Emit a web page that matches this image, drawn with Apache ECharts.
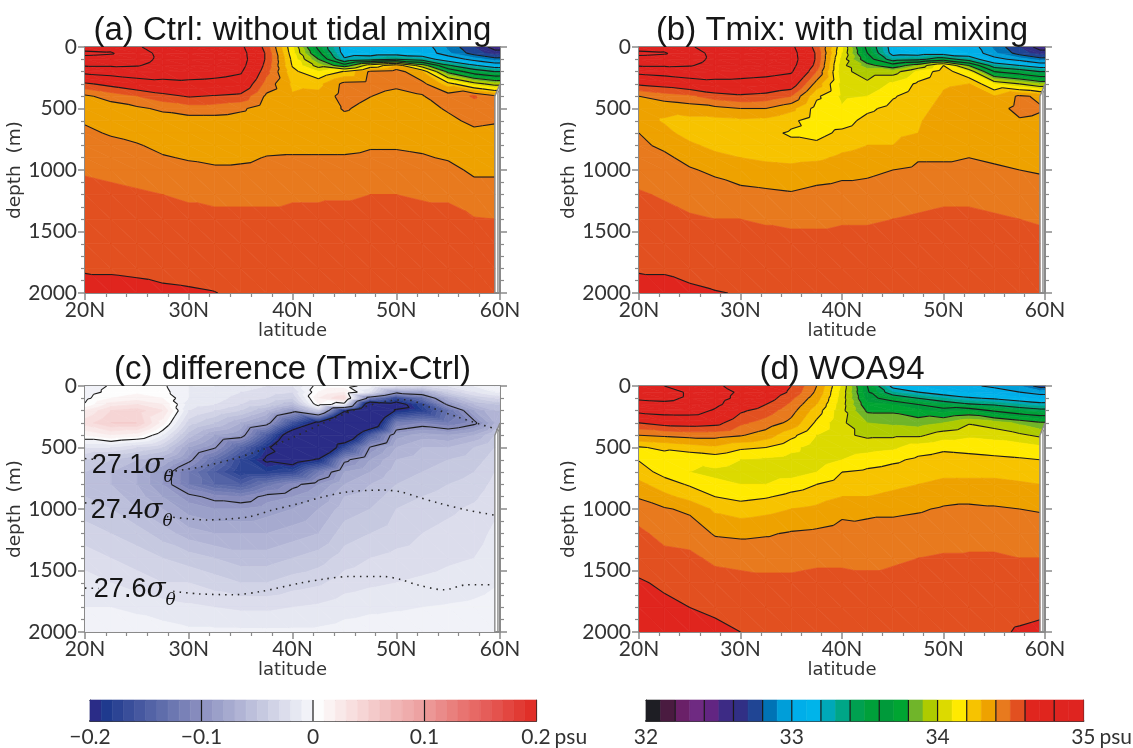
<!DOCTYPE html>
<html><head><meta charset="utf-8">
<script src="https://cdn.jsdelivr.net/npm/echarts@6/dist/echarts.min.js"></script>
<style>html,body{margin:0;padding:0;background:#fff}#c{width:1133px;height:748px}</style>
</head><body><div id="c"></div>
<script>
// ---------------- data ----------------
const latNodes   = [20,22.5,25,27.5,30,32.5,35,37.5,40,42.5,45,47.5,50,52.5,55,57.5,59.5];
const depthNodes = [0,50,100,150,200,300,400,500,600,700,800,900,1000,1200,1400,1600,1800,2000];
const latTicks   = [20,30,40,50,60];
const depthTicks = [0,500,1000,1500,2000];

// salinity (psu), one column per latitude node, top to bottom
const salCtrl = [
 [35.10,35.25,35.12,35.02,34.85,34.58,34.38,34.34,34.39,34.42,34.44,34.46,34.49,34.53,34.56,34.58,34.595,34.62],
 [35.12,35.22,35.10,35.02,34.88,34.64,34.44,34.35,34.36,34.39,34.43,34.45,34.48,34.52,34.55,34.57,34.595,34.615],
 [35.02,35.06,35.05,35.01,34.92,34.70,34.50,34.38,34.34,34.36,34.41,34.44,34.47,34.51,34.54,34.56,34.592,34.613],
 [34.92,34.96,34.97,34.95,34.90,34.74,34.56,34.42,34.35,34.34,34.37,34.41,34.45,34.50,34.53,34.55,34.585,34.61],
 [34.90,34.94,34.95,34.92,34.88,34.76,34.61,34.45,34.36,34.34,34.35,34.39,34.43,34.49,34.52,34.54,34.58,34.607],
 [34.88,34.92,34.92,34.90,34.86,34.75,34.59,34.45,34.36,34.33,34.34,34.37,34.42,34.48,34.52,34.54,34.57,34.602],
 [34.84,34.87,34.88,34.86,34.82,34.72,34.57,34.42,34.35,34.33,34.34,34.38,34.42,34.48,34.52,34.54,34.56,34.585],
 [34.55,34.58,34.58,34.56,34.53,34.46,34.38,34.34,34.32,34.32,34.37,34.405,34.43,34.48,34.52,34.54,34.56,34.58],
 [34.12,34.14,34.17,34.19,34.23,34.28,34.31,34.32,34.32,34.34,34.37,34.41,34.44,34.49,34.52,34.54,34.56,34.58],
 [33.55,33.65,33.80,33.95,34.10,34.27,34.33,34.34,34.33,34.34,34.37,34.41,34.44,34.49,34.52,34.55,34.57,34.58],
 [33.12,33.14,33.22,33.70,34.21,34.43,34.44,34.41,34.37,34.35,34.37,34.41,34.44,34.49,34.53,34.55,34.57,34.59],
 [33.10,33.12,33.30,34.10,34.42,34.44,34.402,34.37,34.35,34.36,34.39,34.42,34.45,34.50,34.53,34.55,34.57,34.59],
 [33.10,33.12,33.40,34.30,34.45,34.42,34.37,34.35,34.34,34.36,34.39,34.42,34.45,34.50,34.53,34.55,34.57,34.59],
 [33.08,33.10,33.30,33.90,34.30,34.43,34.395,34.37,34.35,34.36,34.38,34.41,34.44,34.49,34.53,34.55,34.57,34.59],
 [32.88,32.92,33.10,33.42,33.75,34.25,34.45,34.41,34.38,34.36,34.36,34.39,34.43,34.49,34.52,34.54,34.56,34.58],
 [32.70,32.75,32.95,33.22,33.50,34.05,34.51,34.46,34.42,34.38,34.36,34.36,34.38,34.45,34.505,34.53,34.55,34.57],
 [32.55,32.65,32.85,33.10,33.40,33.95,34.42,34.44,34.41,34.37,34.35,34.36,34.38,34.45,34.50,34.53,34.55,34.57]
];
const salTmix = [
 [35.10,35.25,35.12,35.02,34.85,34.62,34.40,34.34,34.34,34.40,34.42,34.44,34.46,34.51,34.55,34.57,34.595,34.62],
 [35.12,35.22,35.10,35.02,34.88,34.65,34.45,34.33,34.29,34.33,34.38,34.42,34.45,34.49,34.53,34.56,34.595,34.615],
 [35.02,35.06,35.05,35.01,34.92,34.70,34.48,34.35,34.27,34.26,34.32,34.37,34.41,34.47,34.51,34.55,34.585,34.61],
 [34.92,34.96,34.97,34.95,34.90,34.74,34.55,34.37,34.27,34.24,34.27,34.33,34.38,34.45,34.50,34.54,34.575,34.603],
 [34.90,34.94,34.95,34.92,34.88,34.74,34.58,34.40,34.28,34.23,34.25,34.30,34.35,34.43,34.50,34.54,34.57,34.597],
 [34.88,34.92,34.92,34.90,34.86,34.72,34.56,34.40,34.27,34.22,34.23,34.28,34.34,34.42,34.49,34.53,34.56,34.59],
 [34.84,34.87,34.88,34.86,34.82,34.68,34.50,34.33,34.22,34.19,34.22,34.27,34.33,34.41,34.48,34.53,34.56,34.58],
 [34.55,34.58,34.58,34.56,34.50,34.36,34.22,34.16,34.15,34.17,34.22,34.28,34.35,34.43,34.48,34.53,34.56,34.58],
 [34.12,34.10,34.06,34.03,34.03,34.06,34.08,34.11,34.16,34.22,34.27,34.32,34.37,34.44,34.49,34.53,34.56,34.58],
 [33.55,33.60,33.70,33.85,33.95,34.02,34.10,34.18,34.23,34.26,34.30,34.34,34.38,34.44,34.49,34.53,34.56,34.58],
 [33.12,33.14,33.30,33.70,33.95,34.12,34.19,34.23,34.26,34.28,34.30,34.34,34.40,34.46,34.50,34.54,34.56,34.58],
 [33.10,33.12,33.35,33.90,34.12,34.22,34.25,34.27,34.29,34.30,34.34,34.39,34.42,34.47,34.51,34.54,34.56,34.58],
 [33.10,33.12,33.50,34.20,34.26,34.29,34.31,34.33,34.35,34.36,34.37,34.39,34.42,34.48,34.52,34.55,34.57,34.59],
 [33.08,33.10,33.30,33.80,34.10,34.30,34.33,34.35,34.36,34.37,34.38,34.40,34.42,34.48,34.52,34.55,34.57,34.59],
 [32.88,32.92,33.05,33.30,33.60,34.10,34.30,34.36,34.37,34.37,34.38,34.39,34.41,34.47,34.51,34.54,34.56,34.58],
 [32.70,32.75,32.95,33.20,33.50,34.00,34.42,34.43,34.39,34.37,34.37,34.38,34.40,34.46,34.50,34.53,34.55,34.57],
 [32.55,32.65,32.85,33.10,33.40,33.90,34.38,34.41,34.38,34.36,34.36,34.37,34.39,34.45,34.49,34.53,34.55,34.57]
];
const salDiff = [
 [-0.005,-0.005,-0.003,0.001,0.02,0.035,0.01,-0.02,-0.04,-0.05,-0.05,-0.05,-0.045,-0.035,-0.025,-0.015,-0.01,-0.005],
 [0.001,0.003,0.01,0.025,0.04,0.05,0.02,-0.02,-0.05,-0.06,-0.06,-0.055,-0.05,-0.04,-0.03,-0.02,-0.01,-0.005],
 [0.004,0.008,0.015,0.03,0.045,0.05,0.015,-0.03,-0.06,-0.07,-0.07,-0.065,-0.06,-0.045,-0.035,-0.025,-0.012,-0.005],
 [0.002,0.004,0.01,0.02,0.03,0.015,-0.01,-0.04,-0.07,-0.09,-0.09,-0.08,-0.07,-0.055,-0.04,-0.03,-0.015,-0.006],
 [-0.01,-0.01,-0.01,-0.015,-0.02,-0.035,-0.055,-0.08,-0.095,-0.12,-0.12,-0.095,-0.085,-0.065,-0.045,-0.03,-0.018,-0.008],
 [-0.01,-0.012,-0.015,-0.02,-0.03,-0.05,-0.08,-0.098,-0.13,-0.15,-0.14,-0.105,-0.09,-0.07,-0.05,-0.035,-0.02,-0.008],
 [-0.015,-0.02,-0.025,-0.03,-0.04,-0.07,-0.09,-0.14,-0.17,-0.18,-0.15,-0.11,-0.09,-0.07,-0.055,-0.04,-0.022,-0.008],
 [-0.02,-0.025,-0.03,-0.04,-0.06,-0.09,-0.15,-0.19,-0.205,-0.18,-0.125,-0.095,-0.085,-0.07,-0.055,-0.04,-0.022,-0.008],
 [-0.02,-0.03,-0.04,-0.06,-0.09,-0.16,-0.23,-0.26,-0.22,-0.17,-0.105,-0.09,-0.08,-0.065,-0.05,-0.035,-0.02,-0.008],
 [0.005,0.01,0.02,0.01,-0.04,-0.21,-0.28,-0.27,-0.195,-0.12,-0.09,-0.08,-0.07,-0.06,-0.045,-0.032,-0.018,-0.008],
 [0.005,0.02,0.04,-0.01,-0.19,-0.32,-0.25,-0.17,-0.105,-0.08,-0.07,-0.06,-0.055,-0.045,-0.035,-0.025,-0.014,-0.006],
 [-0.005,-0.02,-0.12,-0.25,-0.3,-0.25,-0.15,-0.098,-0.08,-0.07,-0.06,-0.055,-0.05,-0.04,-0.03,-0.022,-0.012,-0.005],
 [-0.02,-0.09,-0.17,-0.22,-0.195,-0.12,-0.085,-0.07,-0.06,-0.055,-0.05,-0.045,-0.04,-0.035,-0.027,-0.02,-0.011,-0.005],
 [-0.03,-0.08,-0.13,-0.17,-0.18,-0.11,-0.075,-0.06,-0.055,-0.05,-0.045,-0.04,-0.035,-0.03,-0.025,-0.018,-0.01,-0.005],
 [-0.02,-0.04,-0.07,-0.095,-0.13,-0.12,-0.08,-0.06,-0.05,-0.045,-0.04,-0.036,-0.032,-0.027,-0.022,-0.016,-0.009,-0.004],
 [-0.01,-0.02,-0.04,-0.06,-0.08,-0.105,-0.07,-0.05,-0.045,-0.04,-0.036,-0.032,-0.028,-0.024,-0.02,-0.014,-0.008,-0.004],
 [-0.002,-0.01,-0.03,-0.05,-0.06,-0.07,-0.05,-0.04,-0.035,-0.03,-0.027,-0.024,-0.022,-0.018,-0.015,-0.011,-0.006,-0.003]
];
const salWOA = [
 [35.00,35.06,35.02,34.95,34.85,34.60,34.40,34.19,34.195,34.24,34.33,34.39,34.45,34.52,34.56,34.61,34.64,34.67],
 [35.00,35.06,35.03,34.97,34.88,34.65,34.42,34.22,34.15,34.17,34.24,34.33,34.41,34.47,34.53,34.585,34.62,34.65],
 [34.92,34.98,34.98,34.95,34.88,34.66,34.44,34.25,34.12,34.10,34.19,34.26,34.38,34.46,34.52,34.57,34.60,34.63],
 [34.82,34.86,34.86,34.84,34.78,34.64,34.44,34.28,34.14,34.08,34.12,34.20,34.28,34.39,34.48,34.54,34.585,34.62],
 [34.76,34.78,34.76,34.70,34.62,34.52,34.41,34.22,34.10,34.06,34.10,34.17,34.25,34.38,34.47,34.53,34.57,34.60],
 [34.70,34.70,34.66,34.60,34.55,34.46,34.35,34.20,34.08,34.04,34.10,34.19,34.27,34.39,34.47,34.52,34.56,34.59],
 [34.60,34.58,34.52,34.48,34.44,34.37,34.23,34.13,34.06,34.05,34.15,34.23,34.30,34.41,34.47,34.52,34.56,34.59],
 [34.40,34.38,34.34,34.30,34.25,34.18,34.10,34.05,34.04,34.10,34.20,34.26,34.32,34.42,34.48,34.53,34.56,34.59],
 [34.08,34.06,34.05,34.04,34.03,34.02,34.02,34.04,34.10,34.20,34.25,34.30,34.37,34.44,34.48,34.53,34.56,34.59],
 [33.60,33.62,33.66,33.72,33.78,33.90,33.98,34.06,34.15,34.22,34.26,34.30,34.38,34.43,34.48,34.52,34.55,34.58],
 [33.15,33.30,33.52,33.70,33.78,33.88,33.98,34.08,34.18,34.24,34.28,34.32,34.38,34.44,34.49,34.52,34.55,34.58],
 [33.10,33.20,33.40,33.60,33.72,33.86,33.98,34.15,34.22,34.26,34.30,34.34,34.39,34.45,34.50,34.53,34.56,34.58],
 [33.05,33.12,33.30,33.50,33.66,33.90,34.05,34.18,34.24,34.28,34.32,34.37,34.41,34.46,34.51,34.53,34.56,34.58],
 [33.02,33.08,33.22,33.42,33.70,33.99,34.08,34.17,34.23,34.28,34.32,34.37,34.42,34.47,34.51,34.53,34.56,34.58],
 [32.98,33.05,33.18,33.38,33.58,33.95,34.06,34.16,34.22,34.28,34.32,34.37,34.41,34.47,34.51,34.53,34.56,34.58],
 [32.90,33.00,33.12,33.30,33.50,33.88,34.02,34.15,34.21,34.27,34.31,34.36,34.40,34.46,34.50,34.53,34.57,34.61],
 [32.75,32.95,33.08,33.25,33.45,33.82,33.98,34.12,34.20,34.26,34.30,34.35,34.39,34.46,34.50,34.53,34.58,34.62]
];
// potential-density isolines drawn in panel (c): [lat, depth]
const iso271 = [[20,590],[21.2,598],'-',[28.1,697],[31,660],[34,600],[37,520],[40,420],[43,300],[46,195],[49,125],[51,112],[53,165],[56,255],[60,360]];
const iso274 = [[20,950],[21,958],'-',[27.9,1062],[30,1080],[31.7,1089],[34,1080],[35.9,1062],[38,1010],[40.7,954],[43,900],[45.5,859],[48.8,846],[50.5,862],[52,900],[54,950],[56.8,1008],[59.4,1049]];
const iso276 = [[20,1643],[21.3,1646],'-',[28.5,1670],[31,1690],[34.3,1697],[37,1670],[40.7,1603],[43,1570],[45.5,1549],[48.8,1549],[50.5,1575],[52,1616],[54.6,1657],[56.8,1616],[59.4,1616]];
const isoLabels = [[24.6,650,'27.1'],[24.5,1010,'27.4'],[24.8,1655,'27.6']];
// land boundary at the northern end
const coastInner = [[59.5,2000],[59.5,400],[60,300]];
const coastOuter = [[59.8,2000],[59.8,372],[60,342]];
const COAST_DEPTH = 300;
// colour bars
const salBarTicks = [32,33,34,35];
const diffBarTicks = [-0.2,-0.1,0,0.1,0.2];

// ---------------- styling ----------------
const salColors = ['#1e1e24','#4a1b40','#6a2068','#6f2a82','#622582','#3d2b85','#312f85','#204594','#0073b5','#009ed9',
 '#00aee9','#00b4ea','#00a8b8','#00a687','#00a050','#00a03a','#009a3a','#00a532','#70b52a','#aecb00',
 '#dcda00','#ffea00','#f7c300','#eea200','#e87a1e','#e25020','#e0251e','#e0251e','#df2420','#df2420'];
const diffColors = (function(){
  const anchors=[[0,'#2a2c87'],[1,'#1f3a8e'],[9,'#868bbd'],[19,'#f1f2f8'],[20,'#fdfdfd'],[29,'#eda2a2'],[39,'#e02f28']];
  const hex=h=>[1,3,5].map(k=>parseInt(h.substr(k,2),16));
  const out=[];
  for(let k=0;k<40;k++){
    let a=anchors[0],b=anchors[1];
    for(let m=0;m<anchors.length-1;m++){ if(k>=anchors[m][0]&&k<=anchors[m+1][0]){a=anchors[m];b=anchors[m+1];break;} }
    const t=(k-a[0])/(b[0]-a[0]); const ca=hex(a[1]), cb=hex(b[1]);
    out.push('rgb('+ca.map((c,n)=>Math.round(c+(cb[n]-c)*t)).join(',')+')');
  }
  return out;
})();
const salBreaks  = Array.from({length:29},(_,k)=>+(32.1+0.1*k).toFixed(3));
const diffBreaks = Array.from({length:39},(_,k)=>+(-0.19+0.01*k).toFixed(3));
const salLevels  = Array.from({length:17},(_,k)=>+(32.2+0.2*k).toFixed(3));
const diffLevels = [-0.2,-0.1,0,0.1,0.2];

const FONT = 'Lato, "Liberation Sans", sans-serif';
const NFONT = '"DejaVu Sans", sans-serif';
const TFONT = '"Liberation Sans", Arial, sans-serif';
const AX = '#8a8a8a';
const LABEL = '#333';

// ---------------- contouring helpers ----------------
const nL = latNodes.length;
function latAt(i){ return i < nL ? latNodes[i] : 60; }
function valGetter(field){
  return (i,j)=> i < nL ? field[i][j] : (depthNodes[j] <= COAST_DEPTH ? field[nL-1][j] : null);
}
function bandOf(v, br){ let k=0; while(k<br.length && v>=br[k]) k++; return k; }
function clip(P,V,thr,above){
  const oP=[],oV=[];
  for(let k=0;k<P.length;k++){
    const a=P[k],b=P[(k+1)%P.length],va=V[k],vb=V[(k+1)%P.length];
    const ia= above? va>=thr : va<=thr, ib= above? vb>=thr : vb<=thr;
    if(ia){oP.push(a);oV.push(va);}
    if(ia!==ib){const t=(thr-va)/(vb-va); oP.push([a[0]+t*(b[0]-a[0]),a[1]+t*(b[1]-a[1])]); oV.push(thr);}
  }
  return [oP,oV];
}
function cellTris(api, getV){
  const i=api.value(2), j=api.value(3);
  const C=[[i,j],[i+1,j],[i+1,j+1],[i,j+1]];
  const P=C.map(c=>api.coord([latAt(c[0]),depthNodes[c[1]]]));
  const V=C.map(c=>getV(c[0],c[1]));
  const T=(i<nL-1)?[[0,1,2],[0,2,3]]:[[0,1,3],[1,2,3]];
  return T.filter(t=>!t.some(k=>V[k]==null)).map(t=>[t.map(k=>P[k]),t.map(k=>V[k])]);
}
function fillRender(field, br, cols){
  const getV=valGetter(field);
  return function(params, api){
    const ch=[];
    cellTris(api,getV).forEach(([pts,vs])=>{
      const k0=bandOf(Math.min(...vs),br), k1=bandOf(Math.max(...vs),br);
      for(let b=k0;b<=k1;b++){
        let p=[pts,vs];
        if(b>0) p=clip(p[0],p[1],br[b-1],true);
        if(b<br.length && p[0].length>=3) p=clip(p[0],p[1],br[b],false);
        if(p[0].length>=3) ch.push({type:'polygon',silent:true,shape:{points:p[0]},style:{fill:cols[b],stroke:cols[b],lineWidth:0.7}});
      }
    });
    return {type:'group',children:ch};
  };
}
function lineRender(field, levels){
  const getV=valGetter(field);
  return function(params, api){
    const ch=[];
    cellTris(api,getV).forEach(([pts,vs])=>{
      levels.forEach(L=>{
        const up=vs.map(v=>v>=L);
        if(up[0]===up[1]&&up[1]===up[2]) return;
        const s=[];
        for(let e=0;e<3;e++){const a=e,b=(e+1)%3; if(up[a]!==up[b]){const t=(L-vs[a])/(vs[b]-vs[a]); s.push([pts[a][0]+t*(pts[b][0]-pts[a][0]),pts[a][1]+t*(pts[b][1]-pts[a][1])]);}}
        if(s.length===2) ch.push({type:'line',silent:true,shape:{x1:s[0][0],y1:s[0][1],x2:s[1][0],y2:s[1][1]},style:{stroke:'#1c1c1c',lineWidth:1.1}});
      });
    });
    return {type:'group',children:ch};
  };
}
const cells=[];
for(let i=0;i<nL;i++) for(let j=0;j<depthNodes.length-1;j++) cells.push([latNodes[i],depthNodes[j],i,j]);

// ---------------- layout ----------------
const panels=[
 {title:'(a) Ctrl: without tidal mixing', left:85, top:47, width:415, field:salCtrl, diff:false},
 {title:'(b) Tmix: with tidal mixing',   left:639, top:47, width:406, field:salTmix, diff:false},
 {title:'(c) difference (Tmix-Ctrl)',     left:85, top:386, width:415, field:salDiff, diff:true},
 {title:'(d) WOA94',                      left:639, top:386, width:406, field:salWOA, diff:false}
];
const H=246;
const grids=[], xAxes=[], yAxes=[], series=[], titles=[];
panels.forEach((p,k)=>{
  grids.push({left:p.left, top:p.top, width:p.width, height:H, containLabel:false});
  titles.push({text:p.title, left:p.left+p.width/2, top:p.top-33, textAlign:'center', padding:0,
    textStyle:{fontSize:33, fontWeight:'normal', color:'#161616', fontFamily:TFONT}});
  const common={gridIndex:k, type:'value', min:20, max:60, interval:10, splitLine:{show:false},
    axisLine:{show:true, onZero:false, lineStyle:{color:AX,width:2}},
    axisTick:{show:true, length:7, lineStyle:{color:AX,width:1.5}},
    minorTick:{show:true, splitNumber:5, length:4, lineStyle:{color:AX,width:1.2}}};
  xAxes.push(Object.assign({}, common, {position:'bottom',
    axisLabel:{formatter:v=>latTicks.includes(v)?v+'N':'', fontSize:21, color:LABEL, fontFamily:FONT, margin:7},
    name:'latitude', nameLocation:'middle', nameGap:28, nameTextStyle:{fontSize:18, color:LABEL, fontFamily:NFONT}}));
  xAxes.push(Object.assign({}, common, {position:'top', axisLabel:{show:false}, axisTick:{show:true,inside:true,length:7,lineStyle:{color:AX,width:1.5}}}));
  const ycommon={gridIndex:k, type:'value', min:0, max:2000, interval:500, inverse:true, splitLine:{show:false},
    axisLine:{show:true, onZero:false, lineStyle:{color:AX,width:2}},
    axisTick:{show:true, length:7, lineStyle:{color:AX,width:1.5}},
    minorTick:{show:true, splitNumber:5, length:4, lineStyle:{color:AX,width:1.2}}};
  yAxes.push(Object.assign({}, ycommon, {position:'left',
    axisLabel:{formatter:v=>depthTicks.includes(v)?String(v):'', fontSize:21, color:LABEL, fontFamily:FONT, margin:8},
    name:'depth  (m)', nameLocation:'middle', nameGap:58, nameRotate:90, nameTextStyle:{fontSize:18.5, color:LABEL, fontFamily:NFONT}}));
  yAxes.push(Object.assign({}, ycommon, {position:'right', axisLabel:{show:false}}));
  const br=p.diff?diffBreaks:salBreaks, cols=p.diff?diffColors:salColors, lv=p.diff?diffLevels:salLevels;
  series.push({type:'custom', coordinateSystem:'cartesian2d', xAxisIndex:2*k, yAxisIndex:2*k, data:cells,
    encode:{x:0,y:1}, renderItem:fillRender(p.field,br,cols), clip:true, silent:true, z:1, animation:false});
  series.push({type:'custom', coordinateSystem:'cartesian2d', xAxisIndex:2*k, yAxisIndex:2*k, data:cells,
    encode:{x:0,y:1}, renderItem:lineRender(p.field,lv), clip:true, silent:true, z:2, animation:false});
  [coastInner,coastOuter].forEach(c=>series.push({type:'line', xAxisIndex:2*k, yAxisIndex:2*k, data:c, symbol:'none',
    lineStyle:{color:'#8a8a8a', width:1.4}, z:4, silent:true, animation:false}));
  if(p.diff){
    [iso271,iso274,iso276].forEach(d=>series.push({type:'line', xAxisIndex:2*k, yAxisIndex:2*k, data:d, symbol:'none',
      connectNulls:false, smooth:0.3, lineStyle:{color:'#2a2a2a', width:1.6, type:[1.5,5]}, z:3, silent:true, animation:false}));
    const lblTxt={color:'#141414', opacity:1, textBorderWidth:0, textShadowBlur:0};
    series.push({type:'scatter', xAxisIndex:2*k, yAxisIndex:2*k, data:isoLabels.map(d=>({value:[d[0],d[1]], name:d[2]})),
      symbol:'circle', symbolSize:1, itemStyle:{color:'rgba(0,0,0,0)'}, silent:true, z:6, animation:false,
      label:{show:true, position:'inside', color:'#141414', opacity:1, textBorderWidth:0, formatter:q=>'{n|'+q.name+'}{s|σ}{t|θ}',
        rich:{n:Object.assign({fontSize:27, fontFamily:TFONT, lineHeight:40, verticalAlign:'middle'},lblTxt),
              s:Object.assign({fontSize:28, fontFamily:'"DejaVu Serif", serif', fontStyle:'italic', lineHeight:40, verticalAlign:'middle'},lblTxt),
              t:Object.assign({fontSize:17, fontFamily:'"DejaVu Serif", serif', fontStyle:'italic', lineHeight:40, verticalAlign:'bottom'},lblTxt)}}});
  }
});

// colour bars
function barCells(lo, step, n){ const out=[]; for(let k=0;k<n;k++) out.push([+(lo+step*k).toFixed(4), +(lo+step*(k+1)).toFixed(4), k]); return out; }
const bars=[
 {left:90, width:446, min:-0.2, max:0.2, cells:barCells(-0.2,0.01,40), cols:diffColors, seps:[-0.1,0,0.1],
  fmt:v=>{const r=Math.round(v*10)/10; return r===0?'0':(r<0?'\u2212':'')+Math.abs(r).toFixed(1);}, ticks:diffBarTicks, gap:16},
 {left:646, width:441, min:32, max:35, cells:barCells(32,0.1,30), cols:salColors,
  seps:Array.from({length:14},(_,k)=>+(32.2+0.2*k).toFixed(2)), fmt:v=>String(v), ticks:salBarTicks, gap:11}
];
bars.forEach((b,m)=>{
  const g=4+m, xi=8+2*m;
  grids.push({left:b.left, top:700, width:b.width, height:24});
  xAxes.push({gridIndex:g, type:'value', min:b.min, max:b.max, interval:b.min<0?0.1:1, position:'bottom',
    splitLine:{show:false}, axisTick:{show:false}, axisLine:{show:true,onZero:false,lineStyle:{color:'#3a3a3a',width:2}},
    axisLabel:{formatter:b.fmt, fontSize:21, color:LABEL, fontFamily:FONT, margin:6, showMinLabel:true, showMaxLabel:true},
    name:'psu', nameLocation:'end', nameGap:b.gap, nameTextStyle:{fontSize:21, color:LABEL, fontFamily:FONT, verticalAlign:'top', align:'left', padding:[6,0,0,0]}});
  xAxes.push({gridIndex:g, type:'value', min:b.min, max:b.max, position:'top', splitLine:{show:false}, axisTick:{show:false},
    axisLabel:{show:false}, axisLine:{show:true,onZero:false,lineStyle:{color:'#222',width:1.2}}});
  yAxes.push({gridIndex:g, type:'value', min:0, max:1, position:'left', splitLine:{show:false}, axisTick:{show:false},
    axisLabel:{show:false}, axisLine:{show:true,onZero:false,lineStyle:{color:'#222',width:1.2}}});
  yAxes.push({gridIndex:g, type:'value', min:0, max:1, position:'right', splitLine:{show:false}, axisTick:{show:false},
    axisLabel:{show:false}, axisLine:{show:true,onZero:false,lineStyle:{color:'#222',width:1.2}}});
  series.push({type:'custom', coordinateSystem:'cartesian2d', xAxisIndex:xi, yAxisIndex:xi, data:b.cells, encode:{x:[0,1]},
    silent:true, animation:false, z:1,
    renderItem:(params,api)=>{const p0=api.coord([api.value(0),1]), p1=api.coord([api.value(1),0]); const c=b.cols[api.value(2)];
      return {type:'rect', shape:{x:p0[0],y:p0[1],width:p1[0]-p0[0],height:p1[1]-p0[1]}, style:{fill:c,stroke:c,lineWidth:0.6}};}});
  series.push({type:'custom', coordinateSystem:'cartesian2d', xAxisIndex:xi, yAxisIndex:xi, data:b.seps.map(v=>[v]), encode:{x:0},
    silent:true, animation:false, z:2,
    renderItem:(params,api)=>{const p0=api.coord([api.value(0),1]), p1=api.coord([api.value(0),0]);
      return {type:'line', shape:{x1:p0[0],y1:p0[1],x2:p1[0],y2:p1[1]}, style:{stroke:'#1a1a1a',lineWidth:1.2}};}});
});

const chart=echarts.init(document.getElementById('c'),null,{renderer:'canvas'});
chart.setOption({animation:false, backgroundColor:'#fff', title:titles, grid:grids, xAxis:xAxes, yAxis:yAxes, series:series});
</script></body></html>
